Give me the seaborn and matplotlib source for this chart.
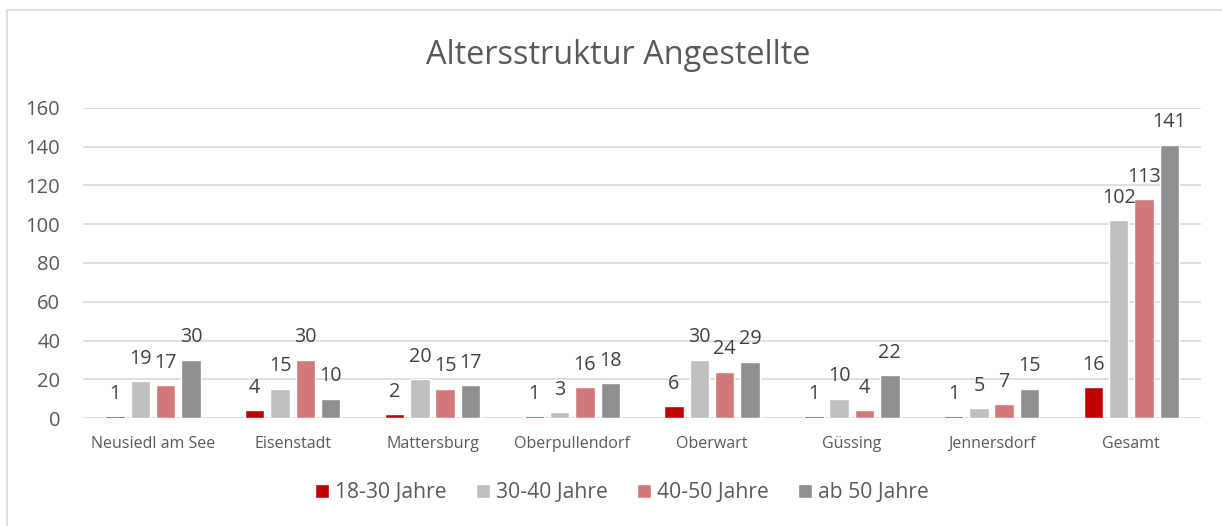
import matplotlib
matplotlib.use("Agg")
import matplotlib.pyplot as plt
from matplotlib.patches import Rectangle
import seaborn as sns
import pandas as pd

# values
bezirke = ["Neusiedl am See", "Eisenstadt", "Mattersburg", "Oberpullendorf",
           "Oberwart", "Güssing", "Jennersdorf", "Gesamt"]
gruppen = ["18-30 Jahre", "30-40 Jahre", "40-50 Jahre", "ab 50 Jahre"]
jahre_18_30 = [1, 4, 2, 1, 6, 1, 1, 16]
jahre_30_40 = [19, 15, 20, 3, 30, 10, 5, 102]
jahre_40_50 = [17, 30, 15, 16, 24, 4, 7, 113]
ab_50 = [30, 10, 17, 18, 29, 22, 15, 141]
farben = ["#C00000", "#BFBFBF", "#D17878", "#8F8F8F"]

rows = []
for g, vals in zip(gruppen, [jahre_18_30, jahre_30_40, jahre_40_50, ab_50]):
    for b, v in zip(bezirke, vals):
        rows.append({"Bezirk": b, "Gruppe": g, "Anzahl": v})
df = pd.DataFrame(rows)

sns.set_style("white")
plt.rcParams["font.family"] = ["Open Sans", "DejaVu Sans"]
txt = "#595959"
grid = "#D9D9D9"

fig = plt.figure(figsize=(12.22, 5.26), dpi=100)
ax = fig.add_axes([0.068, 0.2053, 0.915, 0.5894])

sns.barplot(data=df, x="Bezirk", y="Anzahl", hue="Gruppe", palette=farben,
            width=0.725, gap=0.23, ax=ax, legend=True, saturation=1)

for c in ax.containers:
    ax.bar_label(c, fontsize=14.2, color="#404040", padding=9)

ax.set_ylim(0, 160)
ax.set_yticks(range(0, 161, 20))
ax.yaxis.grid(True, color=grid, linewidth=1.2)
ax.set_axisbelow(True)
for s in ax.spines.values():
    s.set_visible(False)
ax.set_xlabel("")
ax.set_ylabel("")
ax.tick_params(axis="y", length=0, pad=16.5, labelsize=14.5, labelcolor=txt)
ax.tick_params(axis="x", length=0, pad=13, labelsize=11.5, labelcolor=txt)

fig.text(618 / 1222, 1 - 55 / 526, "Altersstruktur Angestellte", ha="center",
         va="center", fontsize=23.4, color=txt)

handles, labels = ax.get_legend_handles_labels()
ax.legend(handles, labels, loc="center", bbox_to_anchor=(622 / 1222, 33 / 526),
          bbox_transform=fig.transFigure, ncol=4, frameon=False,
          fontsize=15.2, labelcolor=txt, handlelength=0.66, handleheight=0.66,
          handletextpad=0.28, columnspacing=1.4)

# chart frame
fig.patches.append(Rectangle((7 / 1222, -0.05), 1.2, 0.05 + 516 / 526,
                             transform=fig.transFigure, fill=False,
                             edgecolor="#D9D9D9", linewidth=1.2))

fig.savefig("out.png", dpi=100)
